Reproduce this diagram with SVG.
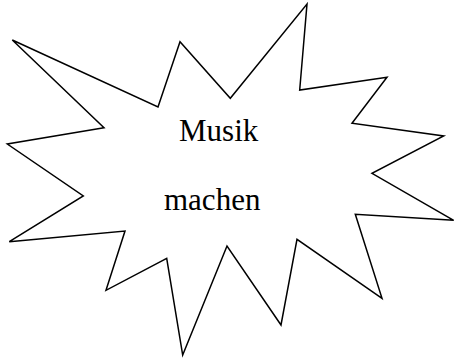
<svg xmlns="http://www.w3.org/2000/svg" width="455" height="363" viewBox="0 0 455 363">
<style>
.shape{fill:#fff;stroke:#000;stroke-width:1.5;stroke-linejoin:miter}
.lbl{font-family:"Liberation Serif","Times New Roman",serif;font-size:31px;fill:#000}
</style>
<rect width="455" height="363" fill="#fff"/>
<g id="burst">
<polygon class="shape" points="12.3,40 158,107 180,41.7 230.3,98.3 307,4 299.7,90 387,77.3 352,123.3 443.7,136 372,173.3 453.7,220.3 355.3,214.3 382,298.3 297,239.3 281,325 227,246 182.7,355 166.7,258.3 106,290.3 125,231 9.3,241.7 83.3,196 7.3,144 104,127.7"/>
<text class="lbl" x="179" y="141">Musik</text>
<text class="lbl" x="164" y="210">machen</text>
</g>
</svg>
